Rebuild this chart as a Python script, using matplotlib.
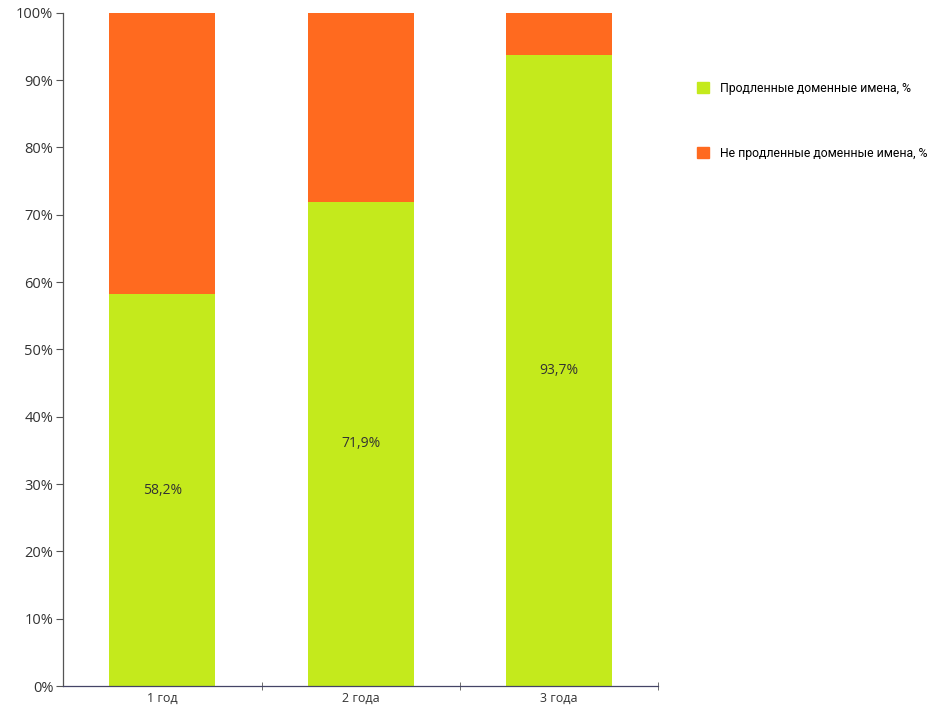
import matplotlib.pyplot as plt
import matplotlib.patches as mpatches
import numpy as np

# data
categories = ["1 год", "2 года", "3 года"]
renewed = [58.2, 71.9, 93.7]
not_renewed = [100 - v for v in renewed]
value_labels = ["58,2%", "71,9%", "93,7%"]

GREEN = "#c4ea1c"
ORANGE = "#ff6a1f"

plt.rcParams['font.family'] = ['Open Sans', 'DejaVu Sans']

fig = plt.figure(figsize=(9.42, 7.08), dpi=100)
ax = fig.add_axes([0.067, 0.031, 0.632, 0.951])

x = np.arange(len(categories))
ax.bar(x, renewed, width=0.535, color=GREEN, edgecolor="none")
ax.bar(x, not_renewed, width=0.535, bottom=renewed, color=ORANGE, edgecolor="none")

for i in range(len(categories)):
    ax.text(x[i], renewed[i] / 2, value_labels[i], ha="center", va="center",
            fontsize=10, color="#333333")

ax.set_xlim(-0.5, 2.5)
ax.set_ylim(0, 100)
ax.set_yticks(range(0, 101, 10))
ax.set_yticklabels(["%d%%" % v for v in range(0, 101, 10)], fontsize=10.5, color="#333333")

# category labels centered, ticks at boundaries
ax.set_xticks(x)
ax.set_xticklabels(categories, fontsize=9, color="#333333")
ax.tick_params(axis="x", which="major", length=0, pad=4)
ax.set_xticks([0.5, 1.5, 2.5], minor=True)
ax.tick_params(axis="x", which="minor", length=6, direction="inout", color="#555555")
ax.tick_params(axis="y", length=5, color="#555555", pad=2)

for s in ["top", "right"]:
    ax.spines[s].set_visible(False)
ax.spines["left"].set_color("#555555")
ax.spines["bottom"].set_color("#444466")
ax.spines["left"].set_linewidth(0.9)
ax.spines["bottom"].set_linewidth(0.9)

handles = [mpatches.Patch(color=GREEN, label="Продленные доменные имена, %"),
           mpatches.Patch(color=ORANGE, label="Не продленные доменные имена, %")]
fig.legend(handles=handles, loc="upper left", bbox_to_anchor=(0.728, 0.9),
           frameon=False, prop={"family": "Roboto", "size": 8.8},
           handlelength=1.0, handleheight=1.0,
           labelspacing=4.25, handletextpad=0.9)

plt.savefig("out.png", dpi=100)
